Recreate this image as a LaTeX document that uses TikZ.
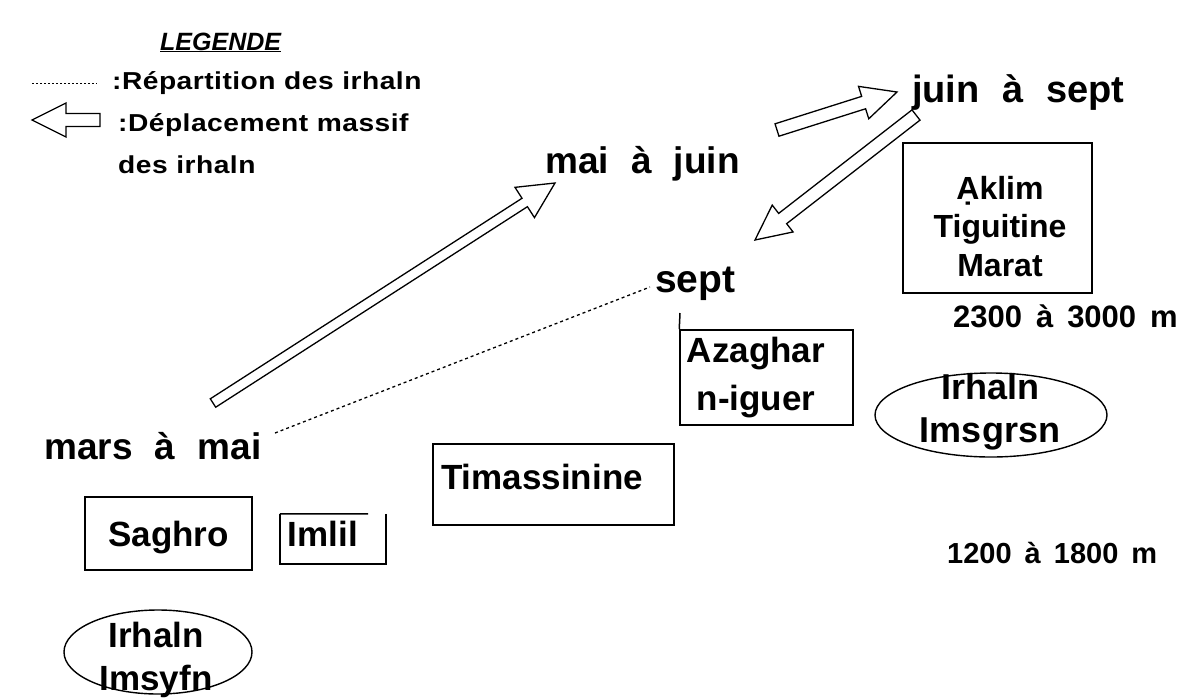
\documentclass[tikz,border=0pt]{standalone}
\usepackage{fontspec}
\setmainfont{Liberation Sans}
\newfontfamily\legfont{Liberation Sans}[FakeStretch=1.15,LetterSpace=2]
\usetikzlibrary{calc,shapes.geometric}
\newcommand\fs[3]{\fontsize{#1}{#2}\selectfont\bfseries\spaceskip=#3em plus 0.1em\relax}
\newcommand\lfs[2]{\legfont\fontsize{#1}{#2}\selectfont\bfseries\spaceskip=0.35em plus 0.1em\relax}
\newcommand\blockarrow[5]{%
  \coordinate (hb) at ($(#2)!#5!(#1)$);
  \draw[blk] ($(#1)!#3!90:(#2)$) -- ($(hb)!#3!90:(#2)$) -- ($(hb)!#4!90:(#2)$) -- (#2)
    -- ($(hb)!#4!-90:(#2)$) -- ($(hb)!#3!-90:(#2)$) -- ($(#1)!#3!-90:(#2)$) -- cycle;}
\tikzset{
  lbl/.style={inner sep=0pt, font=\fs{35}{43}{0.5}},
  leg/.style={inner sep=0pt, font=\lfs{24.5}{40}},
  boxn/.style={draw, line width=1.5pt, inner sep=0pt},
  ell/.style={draw, ellipse, line width=1.4pt, inner sep=0pt},
  blk/.style={draw, line width=1.3pt, fill=white, line join=miter},
  dotl/.style={line width=1.3pt, dash pattern=on 3pt off 3pt},
  legdot/.style={line width=1pt, dash pattern=on 2pt off 2pt},
}
\begin{document}
\begin{tikzpicture}[x=1pt,y=-1pt]
\useasboundingbox (0,0) rectangle (1203,697);
\fill[white] (0,0) rectangle (1203,697);

% ---------- legend ----------
\node[inner sep=0pt, anchor=base west, font=\fontsize{25}{30}\selectfont\bfseries\itshape] (legtitle) at (160,50) {\underline{LEGENDE}};
\coordinate (ld1) at (32,83);
\coordinate (ld2) at (97,83);
\draw[legdot] (ld1) -- (ld2);
\node[leg, anchor=base west] (legrep) at (112,89) {:Répartition des irhaln};
\coordinate (laT) at (100,120);
\coordinate (laH) at (32,120);
\blockarrow{laT}{laH}{6.5pt}{17pt}{34pt}
\node[leg, anchor=base west] (legdep) at (118,131) {:Déplacement massif};
\node[leg, anchor=base west] (legdes) at (118,173) {des irhaln};

% ---------- period labels ----------
\node[lbl, anchor=base west, font=\fs{37}{40}{0.6}] (maijuin) at (545,173) {mai à juin};
\node[lbl, anchor=base west, font=\fs{38}{40}{0.6}] (juinsept) at (912,102) {juin à sept};
\node[lbl, anchor=base west, font=\fs{39}{40}{0.6}] (sept) at (655,292) {sept};
\node[lbl, anchor=base west, font=\fs{37}{40}{0.6}] (marsmai) at (44,459) {mars à mai};
\node[lbl, anchor=base west, font=\fs{31}{34}{0.45}] (alt1) at (953,327) {2300 à 3000 m};
\node[lbl, anchor=base west, font=\fs{29}{32}{0.45}] (alt2) at (947,563) {1200 à 1800 m};

% ---------- places ----------
\node[boxn, minimum width=189pt, minimum height=150pt] (aklimbox) at (997.5,218) {};
\node[lbl, align=center, font=\fs{32}{38.5}{0.5}] (aklim) at (1000,226.5) {Ạklim\\Tiguitine\\Marat};

\node[boxn, minimum width=173pt, minimum height=95pt] (azbox) at (766.5,377.5) {};
\node[lbl, align=center, font=\fs{35}{48}{0.5}] (azaghar) at (756,378) {Azaghar\\n-iguer};
\coordinate (aztop) at (680,313);
\draw[line width=1.5pt] (azbox.north west) -- (aztop);

\node[ell, minimum width=232pt, minimum height=84pt] (imsgell) at (991,415) {};
\node[lbl, align=center, font=\fs{36}{43}{0.5}] (imsg) at (990,412) {Irhaln\\Imsgrsn};

\node[boxn, minimum width=241pt, minimum height=81pt] (timbox) at (553.5,484.5) {};
\node[lbl, anchor=west] (tim) at (441,477) {Timassinine};

\node[boxn, minimum width=167pt, minimum height=73pt, text height=25pt, text depth=0pt, font=\fs{35}{43}{0.5}] (saghro) at (168.5,533.5) {Saghro};

\node[inner sep=0pt, minimum width=106pt, minimum height=50pt] (imlilbox) at (333,539) {};
\draw[line width=1.5pt] (imlilbox.north west) -- ($(imlilbox.north west)!0.83!(imlilbox.north east)$);
\draw[line width=1.5pt] (imlilbox.north east) -- (imlilbox.south east) -- (imlilbox.south west) -- (imlilbox.north west);
\node[lbl] (imlil) at (323,534) {Imlil};

\node[ell, minimum width=188pt, minimum height=84pt] (imsyell) at (158,652) {};
\node[lbl, align=center, font=\fs{35}{43}{0.5}] (imsy) at (156,660) {Irhaln\\Imsyfn};

% ---------- movements ----------
\coordinate (d1) at (275,433);
\coordinate (d2) at (650,287);
\draw[dotl] (d1) -- (d2);

\coordinate (bigT) at (213,403);
\coordinate (bigH) at (555,183);
\blockarrow{bigT}{bigH}{5pt}{18pt}{36pt}

\coordinate (smT) at (777,130);
\coordinate (smH) at (897,92);
\blockarrow{smT}{smH}{6.5pt}{17pt}{35pt}

\coordinate (lgT) at (916,115);
\coordinate (lgH) at (755,240);
\blockarrow{lgT}{lgH}{6.5pt}{17pt}{35pt}
\end{tikzpicture}
\end{document}
